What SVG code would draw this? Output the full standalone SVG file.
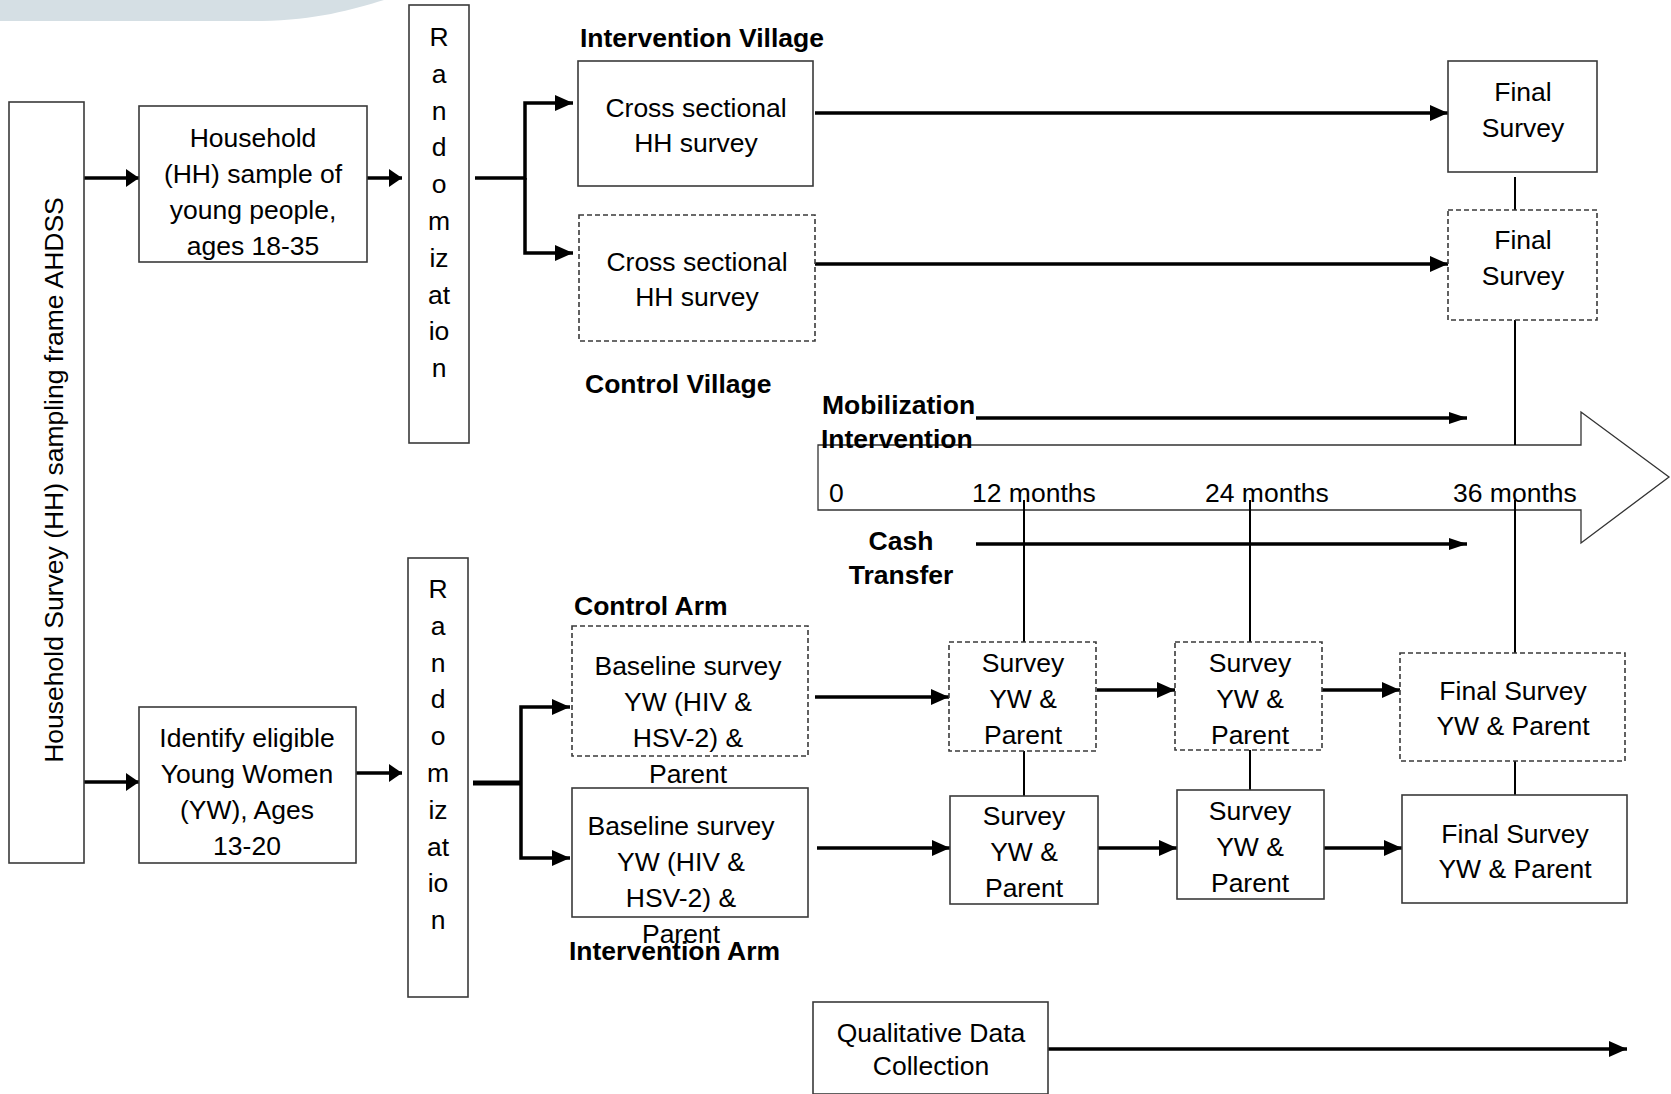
<svg xmlns="http://www.w3.org/2000/svg" width="1671" height="1094" viewBox="0 0 1671 1094">
<style>
text{font-family:"Liberation Sans",Arial,sans-serif;font-size:26.5px;fill:#000}
.b{font-weight:bold}
.m{text-anchor:middle}
.box{fill:#fff;stroke:#3a3a3a;stroke-width:1.6}
.dash{fill:#fff;stroke:#3a3a3a;stroke-width:1.6;stroke-dasharray:5 3}
.th{fill:none;stroke:#000;stroke-width:3.5}
.tn{fill:none;stroke:#000;stroke-width:2}
</style>
<defs>
<marker id="ah" viewBox="0 0 18 16" refX="18" refY="8" markerWidth="18" markerHeight="16" markerUnits="userSpaceOnUse" orient="auto"><path d="M0,0 L18,8 L0,16 z" fill="#000"/></marker>
<marker id="ahs" viewBox="0 0 13 18" refX="13" refY="9" markerWidth="13" markerHeight="18" markerUnits="userSpaceOnUse" orient="auto"><path d="M0,0 L13,9 L0,18 z" fill="#000"/></marker>
<marker id="aht" viewBox="0 0 18 12" refX="18" refY="6" markerWidth="18" markerHeight="12" markerUnits="userSpaceOnUse" orient="auto"><path d="M0,0 L18,6 L0,12 z" fill="#000"/></marker>
</defs>
<rect width="1671" height="1094" fill="#fff"/>
<path d="M0,0 H384 C352,10 315,20 262,21 H0 Z" fill="#d5dfe4"/>

<g id="timeline">
<polygon points="818,445 1581,445 1581,412 1669,477 1581,543 1581,510 818,510" fill="#fff" stroke="#333" stroke-width="1.3"/>
<text x="829" y="502">0</text>
<text x="972" y="502">12 months</text>
<text x="1205" y="502">24 months</text>
<text x="1453" y="502">36 months</text>
</g>

<g id="connectors">
<path class="th" d="M84,178 H139" marker-end="url(#ahs)"/>
<path class="th" d="M367,178 H402" marker-end="url(#ahs)"/>
<path class="th" d="M475,178 H525 V103 H573" marker-end="url(#ah)"/>
<path class="th" d="M525,178 V253 H573" marker-end="url(#ah)"/>
<path class="th" d="M815,113 H1448" marker-end="url(#ah)"/>
<path class="th" d="M815,264 H1448" marker-end="url(#ah)"/>
<path class="tn" d="M1515,177 V210"/>
<path class="tn" d="M1515,320 V445"/>
<path class="th" d="M976,418 H1467" marker-end="url(#aht)"/>
<path class="th" d="M976,544 H1467" marker-end="url(#aht)"/>
<path class="tn" d="M1024,500 V642 M1024,751 V796"/>
<path class="tn" d="M1250,500 V642 M1250,750 V790"/>
<path class="tn" d="M1515,500 V653 M1515,761 V795"/>
<path class="th" d="M84,782 H139" marker-end="url(#ahs)"/>
<path class="th" d="M356,773 H402" marker-end="url(#ahs)"/>
<path fill="none" stroke="#000" stroke-width="5" d="M473,783 H521"/>
<path class="th" d="M521,783 V707 H570" marker-end="url(#ah)"/>
<path class="th" d="M521,783 V858 H570" marker-end="url(#ah)"/>
<path class="th" d="M815,697 H949" marker-end="url(#ah)"/>
<path class="th" d="M817,848 H950" marker-end="url(#ah)"/>
<path class="th" d="M1097,690 H1175" marker-end="url(#ah)"/>
<path class="th" d="M1322,690 H1400" marker-end="url(#ah)"/>
<path class="th" d="M1098,848 H1177" marker-end="url(#ah)"/>
<path class="th" d="M1324,848 H1402" marker-end="url(#ah)"/>
<path class="th" d="M1048,1049 H1627" marker-end="url(#ah)"/>
</g>

<g id="sampling-frame">
<rect class="box" x="9" y="102" width="75" height="761"/>
<text class="m" transform="translate(63,480) rotate(-90)">Household Survey (HH) sampling frame AHDSS</text>
</g>

<g id="hh-sample">
<rect class="box" x="139" y="106" width="228" height="156"/>
<text class="m" x="253" y="147">Household</text>
<text class="m" x="253" y="183">(HH) sample of</text>
<text class="m" x="253" y="219">young people,</text>
<text class="m" x="253" y="255">ages 18-35</text>
</g>

<g id="randomization-1">
<rect class="box" x="409" y="5" width="60" height="438"/>
<text class="m" x="439" y="46">R</text>
<text class="m" x="439" y="83">a</text>
<text class="m" x="439" y="120">n</text>
<text class="m" x="439" y="156">d</text>
<text class="m" x="439" y="193">o</text>
<text class="m" x="439" y="230">m</text>
<text class="m" x="439" y="267">iz</text>
<text class="m" x="439" y="304">at</text>
<text class="m" x="439" y="340">io</text>
<text class="m" x="439" y="377">n</text>
</g>

<g id="label-intervention-village"><text class="b" x="580" y="47">Intervention Village</text></g>
<g id="label-control-village"><text class="b" x="585" y="393">Control Village</text></g>

<g id="cross-1">
<rect class="box" x="578" y="61" width="235" height="125"/>
<text class="m" x="696" y="117">Cross sectional</text>
<text class="m" x="696" y="152">HH survey</text>
</g>
<g id="cross-2">
<rect class="dash" x="579" y="215" width="236" height="126"/>
<text class="m" x="697" y="271">Cross sectional</text>
<text class="m" x="697" y="306">HH survey</text>
</g>

<g id="final-1">
<rect class="box" x="1448" y="61" width="149" height="111"/>
<text class="m" x="1523" y="101">Final</text>
<text class="m" x="1523" y="137">Survey</text>
</g>
<g id="final-2">
<rect class="dash" x="1448" y="210" width="149" height="110"/>
<text class="m" x="1523" y="249">Final</text>
<text class="m" x="1523" y="285">Survey</text>
</g>

<g id="label-mobilization">
<text class="b" x="822" y="414">Mobilization</text>
<text class="b" x="821" y="448">Intervention</text>
</g>
<g id="label-cash">
<text class="b m" x="901" y="550">Cash</text>
<text class="b m" x="901" y="584">Transfer</text>
</g>

<g id="identify-yw">
<rect class="box" x="139" y="707" width="217" height="156"/>
<text class="m" x="247" y="747">Identify eligible</text>
<text class="m" x="247" y="783">Young Women</text>
<text class="m" x="247" y="819">(YW), Ages</text>
<text class="m" x="247" y="855">13-20</text>
</g>

<g id="randomization-2">
<rect class="box" x="408" y="558" width="60" height="439"/>
<text class="m" x="438" y="598">R</text>
<text class="m" x="438" y="635">a</text>
<text class="m" x="438" y="672">n</text>
<text class="m" x="438" y="708">d</text>
<text class="m" x="438" y="745">o</text>
<text class="m" x="438" y="782">m</text>
<text class="m" x="438" y="819">iz</text>
<text class="m" x="438" y="856">at</text>
<text class="m" x="438" y="892">io</text>
<text class="m" x="438" y="929">n</text>
</g>

<g id="label-control-arm"><text class="b" x="574" y="615">Control Arm</text></g>

<g id="baseline-control">
<rect class="dash" x="572" y="626" width="236" height="130"/>
<text class="m" x="688" y="675">Baseline survey</text>
<text class="m" x="688" y="711">YW (HIV &amp;</text>
<text class="m" x="688" y="747">HSV-2) &amp;</text>
<text class="m" x="688" y="783">Parent</text>
</g>

<g id="baseline-intervention">
<rect class="box" x="572" y="788" width="236" height="129"/>
<text class="m" x="681" y="835">Baseline survey</text>
<text class="m" x="681" y="871">YW (HIV &amp;</text>
<text class="m" x="681" y="907">HSV-2) &amp;</text>
<text class="m" x="681" y="943">Parent</text>
</g>

<g id="label-intervention-arm"><text class="b" x="569" y="960">Intervention Arm</text></g>

<g id="survey-12-control">
<rect class="dash" x="949" y="642" width="147" height="109"/>
<text class="m" x="1023" y="672">Survey</text>
<text class="m" x="1023" y="708">YW &amp;</text>
<text class="m" x="1023" y="744">Parent</text>
</g>
<g id="survey-12-intervention">
<rect class="box" x="950" y="796" width="148" height="108"/>
<text class="m" x="1024" y="825">Survey</text>
<text class="m" x="1024" y="861">YW &amp;</text>
<text class="m" x="1024" y="897">Parent</text>
</g>
<g id="survey-24-control">
<rect class="dash" x="1175" y="642" width="147" height="108"/>
<text class="m" x="1250" y="672">Survey</text>
<text class="m" x="1250" y="708">YW &amp;</text>
<text class="m" x="1250" y="744">Parent</text>
</g>
<g id="survey-24-intervention">
<rect class="box" x="1177" y="790" width="147" height="109"/>
<text class="m" x="1250" y="820">Survey</text>
<text class="m" x="1250" y="856">YW &amp;</text>
<text class="m" x="1250" y="892">Parent</text>
</g>
<g id="final-control">
<rect class="dash" x="1400" y="653" width="225" height="108"/>
<text class="m" x="1513" y="700">Final Survey</text>
<text class="m" x="1513" y="735">YW &amp; Parent</text>
</g>
<g id="final-intervention">
<rect class="box" x="1402" y="795" width="225" height="108"/>
<text class="m" x="1515" y="843">Final Survey</text>
<text class="m" x="1515" y="878">YW &amp; Parent</text>
</g>

<g id="qualitative">
<rect class="box" x="813" y="1002" width="235" height="92"/>
<text class="m" x="931" y="1042">Qualitative Data</text>
<text class="m" x="931" y="1075">Collection</text>
</g>
</svg>
